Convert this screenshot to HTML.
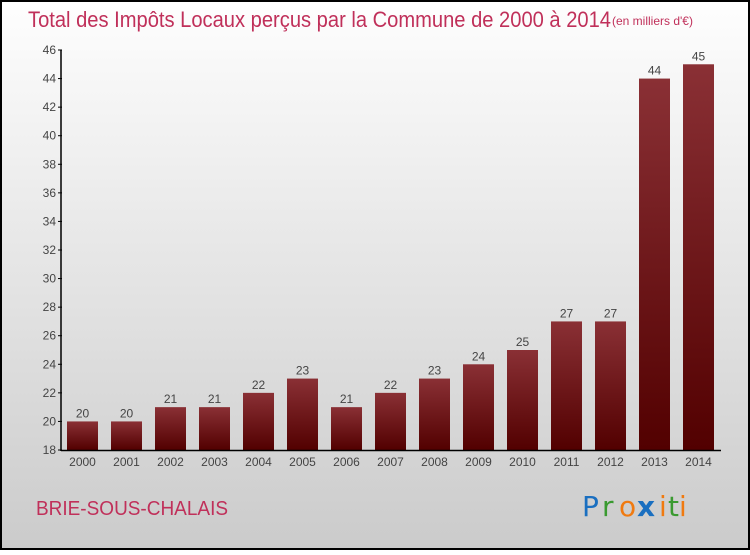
<!DOCTYPE html>
<html><head><meta charset="utf-8"><style>
body{margin:0;width:750px;height:550px;overflow:hidden;font-family:"Liberation Sans",sans-serif}
</style></head><body>
<svg width="750" height="550" xmlns="http://www.w3.org/2000/svg">
<defs>
<linearGradient id="bg" x1="0" y1="0" x2="0" y2="1"><stop offset="0" stop-color="#fefefe"/><stop offset="1" stop-color="#cbcbcb"/></linearGradient>
<linearGradient id="bar" x1="0" y1="0" x2="0" y2="1"><stop offset="0" stop-color="#8a3035"/><stop offset="1" stop-color="#520000"/></linearGradient>
</defs>
<rect x="1" y="1" width="748" height="548" fill="url(#bg)" stroke="#000" stroke-width="2"/>
<text x="28" y="27" font-size="22" fill="#c0305a" textLength="583" lengthAdjust="spacingAndGlyphs">Total des Impôts Locaux perçus par la Commune de 2000 à 2014</text>
<text x="612" y="25" font-size="12" fill="#c0305a">(en milliers d'€)</text>
<g id="plot"></g>
<text x="36" y="515" font-size="20" fill="#c0305a" textLength="192" lengthAdjust="spacingAndGlyphs">BRIE-SOUS-CHALAIS</text>
<g font-size="28" font-family="'DejaVu Sans',sans-serif">
<text x="582" y="516" fill="#1a6fc0">P</text><text x="602" y="516" fill="#3a9a30">r</text><text x="619" y="516" fill="#f07a10">o</text><text x="637" y="516" fill="#1a6fc0" font-weight="bold">x</text><text x="659" y="516" fill="#f07a10">i</text><text x="668" y="516" fill="#3a9a30">t</text><text x="679" y="516" fill="#f07a10">i</text>
</g>
</svg>
<script>
const categories=["2000","2001","2002","2003","2004","2005","2006","2007","2008","2009","2010","2011","2012","2013","2014"];
const values=[20,20,21,21,22,23,21,22,23,24,25,27,27,44,45];
const yTicks=[18,20,22,24,26,28,30,32,34,36,38,40,42,44,46];
const NS="http://www.w3.org/2000/svg";
const g=document.getElementById('plot');
const y=v=>450-(v-18)*400/28;
const x=i=>67+i*44;
function el(t,a){const e=document.createElementNS(NS,t);for(const k in a)e.setAttribute(k,a[k]);g.appendChild(e);return e;}
yTicks.forEach(t=>{
 const l=el('line',{x1:58,x2:62,y1:y(t),y2:y(t),stroke:'#000'});
 
 
 const tx=el('text',{x:56,y:y(t)+4,'font-size':12,fill:'#444','text-anchor':'end'});
 tx.textContent=t;
 
 
});
values.forEach((v,i)=>{
 const r=el('rect',{x:x(i),y:y(v),width:31,height:450-y(v),fill:'url(#bar)'});
 
 
 const t=el('text',{x:x(i)+15.5,y:y(v)-4,'font-size':12,fill:'#444','text-anchor':'middle'});
 t.textContent=v;
 
 
 const c=el('text',{x:x(i)+15.5,y:466,'font-size':12,fill:'#444','text-anchor':'middle'});
 c.textContent=categories[i];
 
 
});
const ya=el('line',{x1:61,x2:61,y1:50,y2:451,stroke:'#000','stroke-width':1.5});


const xa=el('line',{x1:61,x2:721,y1:450.5,y2:450.5,stroke:'#000','stroke-width':1.5});


</script>
</body></html>
